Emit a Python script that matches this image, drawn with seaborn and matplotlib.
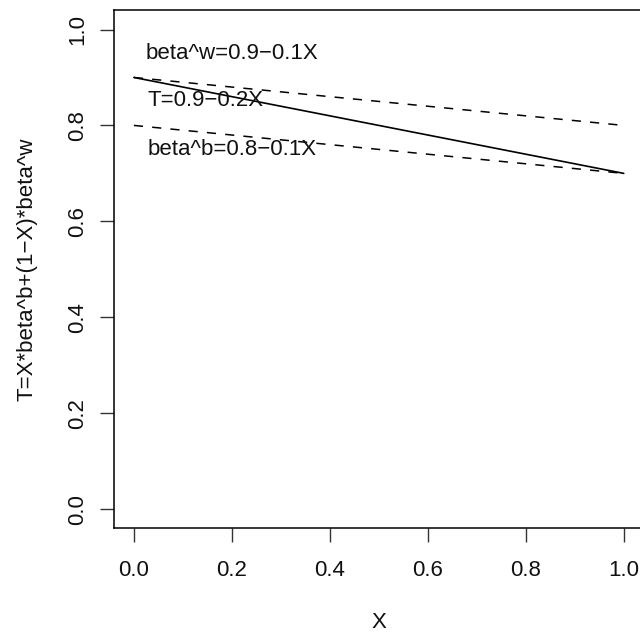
import numpy as np
import pandas as pd
import matplotlib
matplotlib.use("Agg")
import matplotlib.pyplot as plt
import seaborn as sns

# data
x_vals = [0.0, 1.0]
t_vals = [0.9, 0.7]          # T = 0.9 - 0.2X
beta_w = [0.9, 0.8]          # beta^w = 0.9 - 0.1X
beta_b = [0.8, 0.7]          # beta^b = 0.8 - 0.1X

labels = ["beta^w=0.9\u22120.1X", "T=0.9\u22120.2X", "beta^b=0.8\u22120.1X"]
label_x = [0.2, 0.147, 0.2]
label_y = [0.95, 0.853, 0.75]

ticks = [0.0, 0.2, 0.4, 0.6, 0.8, 1.0]
tick_labels = ["0.0", "0.2", "0.4", "0.6", "0.8", "1.0"]

sns.set_style("ticks")
plt.rcParams['font.family'] = ['Liberation Sans', 'DejaVu Sans']
fs = 16

fig = plt.figure(figsize=(6.4, 6.33), dpi=100)
ax = fig.add_axes([0.1786, 0.1654, 0.8266, 0.8183])

df = pd.DataFrame({"X": x_vals, "T": t_vals, "bw": beta_w, "bb": beta_b})
sns.lineplot(data=df, x="X", y="T", color="black", lw=1.2, ax=ax)
sns.lineplot(data=df, x="X", y="bw", color="black", lw=1.1, ax=ax)
sns.lineplot(data=df, x="X", y="bb", color="black", lw=1.1, ax=ax)
ax.lines[1].set_linestyle((0, (6, 6)))
ax.lines[2].set_linestyle((0, (6, 6)))

for tx, ty, s in zip(label_x, label_y, labels):
    ax.text(tx, ty, s, ha="center", va="center", fontsize=fs, color="#111111")

ax.set_xlim(-0.04, 1.04)
ax.set_ylim(-0.04, 1.04)
ax.set_xticks(ticks)
ax.set_xticklabels(tick_labels)
ax.set_yticks(ticks)
ax.set_yticklabels(tick_labels, rotation=90, va="center")
ax.tick_params(axis="x", length=10, width=1, pad=12.5, labelsize=fs,
               color="#333333", labelcolor="#111111")
ax.tick_params(axis="y", length=10, width=1, pad=9, labelsize=fs,
               color="#333333", labelcolor="#111111")

for sp in ax.spines.values():
    sp.set_visible(True)
    sp.set_color("black")
    sp.set_linewidth(1.1)

ax.set_xlabel("X", fontsize=fs, labelpad=23, color="#111111")
ax.set_ylabel("T=X*beta^b+(1\u2212X)*beta^w", fontsize=fs, labelpad=21, color="#111111")

fig.savefig("out.png", dpi=100)
